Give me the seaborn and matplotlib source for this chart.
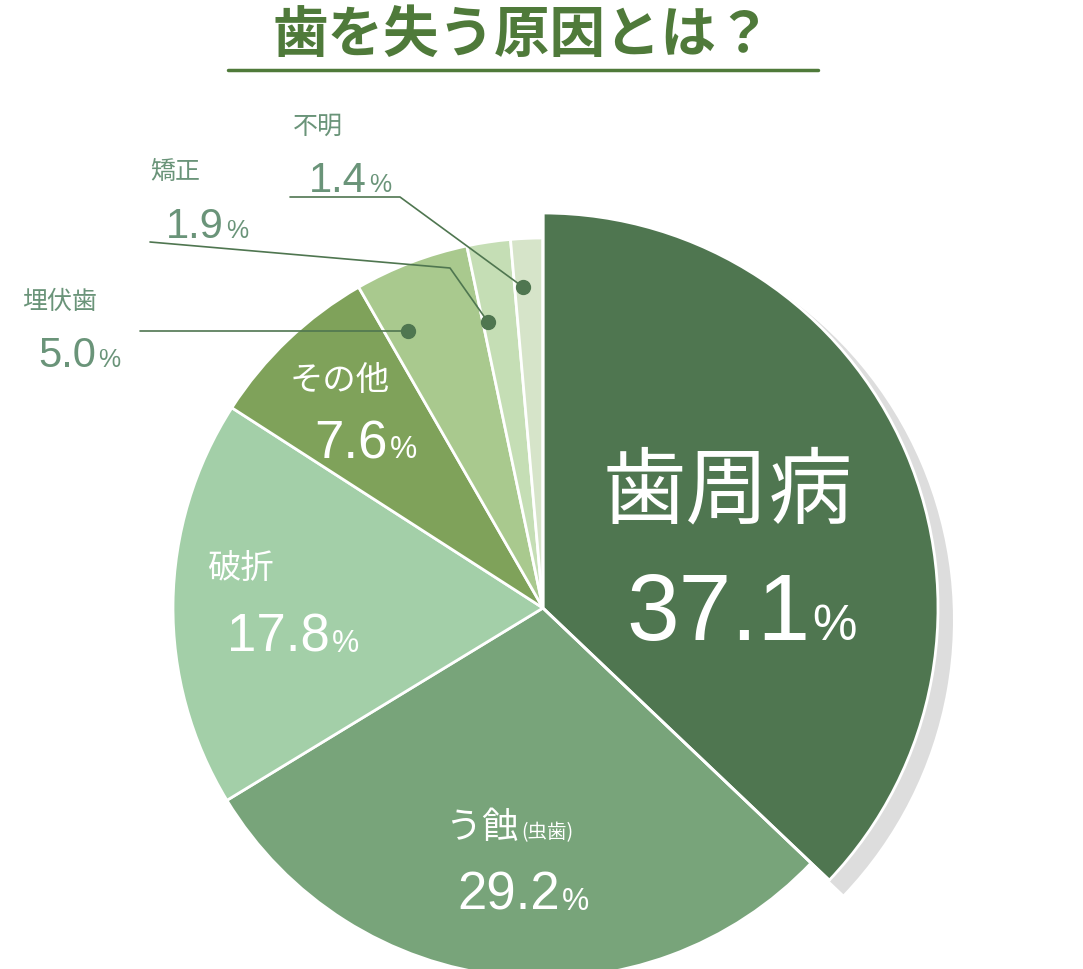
import matplotlib
matplotlib.use("Agg")
import matplotlib.pyplot as plt
import seaborn as sns

# data
causes = ["歯周病", "う蝕", "破折", "その他", "埋伏歯", "矯正", "不明"]
shares = [37.1, 29.2, 17.8, 7.6, 5.0, 1.9, 1.4]
colors = ["#4f7650", "#78a47a", "#a3cfa8", "#7fa25a", "#a9c98e", "#c5deb5", "#d6e4c9"]

sns.set_theme(style="white")
plt.rcParams['font.family'] = ['Noto Sans CJK JP', 'DejaVu Sans']
NUMF = ["Liberation Sans", "DejaVu Sans"]

fig = plt.figure(figsize=(10.83, 9.69), dpi=100)
ax = fig.add_axes([0, 0, 1, 1])

H = 969
cx, cy = 543, H - 608

def Y(py):
    return H - py

# shadow for the big slice
ax.pie([shares[0], 100 - shares[0]], colors=["#00000022", "none"], startangle=90,
       counterclock=False, radius=398, center=(cx + 12, cy - 12),
       wedgeprops=dict(linewidth=0))
w, _ = ax.pie(shares, colors=colors, startangle=90, counterclock=False, radius=370,
              center=(cx, cy), wedgeprops=dict(edgecolor="white", linewidth=2))
w[0].set_visible(False)
ax.pie([shares[0], 100 - shares[0]], colors=[colors[0], "none"], startangle=90,
       counterclock=False, radius=395, center=(cx, cy),
       wedgeprops=dict(edgecolor="white", linewidth=2))

ax.set_xlim(0, 1083)
ax.set_ylim(0, 969)
ax.set_aspect("equal")
ax.axis("off")

# title
ax.text(522, Y(36), "歯を失う原因とは？", ha="center", va="center", fontsize=40,
        color="#4f7a3a", fontweight="bold")
ax.plot([228, 818], [Y(70), Y(70)], color="#4f7a3a", lw=2.5)

def value(x_split, y, val, vs, ps, color):
    # number right-aligned at x_split, % sign just after it
    ax.text(x_split, Y(y), f"{val}", ha="right", va="baseline", fontsize=vs,
            color=color, family=NUMF)
    ax.text(x_split + 2, Y(y), "%", ha="left", va="baseline", fontsize=ps,
            color=color, family=NUMF)

# in-slice labels
ax.text(728, Y(492), causes[0], ha="center", va="center", fontsize=60, color="white")
value(810, 640, shares[0], 68, 36, "white")

ax.text(482, Y(828), causes[1], ha="center", va="center", fontsize=26, color="white")
ax.text(547, Y(833), "(虫歯)", ha="center", va="center", fontsize=14, color="white")
value(560, 910, shares[1], 38, 22, "white")

ax.text(240, Y(568), causes[2], ha="center", va="center", fontsize=24, color="white")
value(330, 652, shares[2], 38, 22, "white")

ax.text(340, Y(380), causes[3], ha="center", va="center", fontsize=24, color="white")
value(388, 458, shares[3], 38, 22, "white")

# outside labels with leaders
txt = "#6a9479"
outs = [(4, 22, 302, 367), (5, 150, 172, 238), (6, 293, 127, 192)]
for i, x, ny, vy in outs:
    ax.text(x, Y(ny), causes[i], ha="left", va="center", fontsize=18, color=txt)
    value(x + 74, vy, shares[i], 30, 18, txt)
line = "#4f7650"
ax.plot([140, 408], [Y(331), Y(331)], color=line, lw=1.2)
ax.plot([150, 450, 488], [Y(242), Y(268), Y(322)], color=line, lw=1.2)
ax.plot([290, 400, 523], [Y(197), Y(197), Y(287)], color=line, lw=1.2)
for dx, dy in [(408, 331), (488, 322), (523, 287)]:
    ax.plot(dx, Y(dy), "o", color=line, ms=10)

fig.savefig("out.png", dpi=100)
